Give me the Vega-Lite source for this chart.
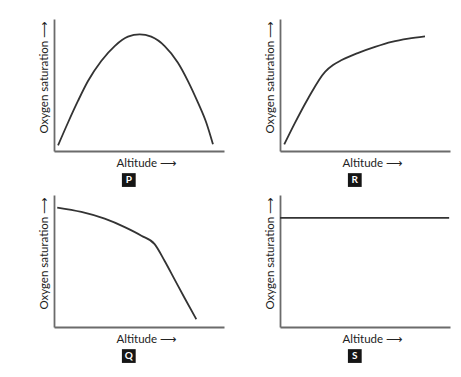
{
  "$schema": "https://vega.github.io/schema/vega-lite/v6.json",
  "background": "white",
  "padding": {"left": 38, "top": 19, "right": 5, "bottom": 3},
  "config": {
    "view": {"stroke": null},
    "font": "Lato, DejaVu Sans, sans-serif",
    "axis": {
      "domainColor": "#6b6b6b",
      "domainWidth": 1.8,
      "ticks": false,
      "labels": false,
      "grid": false,
      "titleFont": "Lato, DejaVu Sans, sans-serif",
      "titleFontSize": 11.5,
      "titleFontWeight": "normal",
      "titleColor": "#222222"
    }
  },
  "datasets": {
    "curves": [
      {"panel": "P", "x": 0.024, "y": 0.043},
      {"panel": "P", "x": 0.082, "y": 0.214},
      {"panel": "P", "x": 0.141, "y": 0.379},
      {"panel": "P", "x": 0.2, "y": 0.53},
      {"panel": "P", "x": 0.278, "y": 0.682},
      {"panel": "P", "x": 0.357, "y": 0.795},
      {"panel": "P", "x": 0.435, "y": 0.866},
      {"panel": "P", "x": 0.504, "y": 0.884},
      {"panel": "P", "x": 0.572, "y": 0.866},
      {"panel": "P", "x": 0.651, "y": 0.795},
      {"panel": "P", "x": 0.729, "y": 0.669},
      {"panel": "P", "x": 0.788, "y": 0.53},
      {"panel": "P", "x": 0.847, "y": 0.366},
      {"panel": "P", "x": 0.896, "y": 0.214},
      {"panel": "P", "x": 0.935, "y": 0.051},
      {"panel": "R", "x": 0.025, "y": 0.05},
      {"panel": "R", "x": 0.088, "y": 0.213},
      {"panel": "R", "x": 0.166, "y": 0.4},
      {"panel": "R", "x": 0.265, "y": 0.6},
      {"panel": "R", "x": 0.312, "y": 0.651},
      {"panel": "R", "x": 0.363, "y": 0.689},
      {"panel": "R", "x": 0.461, "y": 0.744},
      {"panel": "R", "x": 0.559, "y": 0.789},
      {"panel": "R", "x": 0.657, "y": 0.827},
      {"panel": "R", "x": 0.755, "y": 0.852},
      {"panel": "R", "x": 0.853, "y": 0.869},
      {"panel": "Q", "x": 0.019, "y": 0.905},
      {"panel": "Q", "x": 0.161, "y": 0.872},
      {"panel": "Q", "x": 0.298, "y": 0.821},
      {"panel": "Q", "x": 0.416, "y": 0.757},
      {"panel": "Q", "x": 0.514, "y": 0.692},
      {"panel": "Q", "x": 0.592, "y": 0.628},
      {"panel": "Q", "x": 0.651, "y": 0.5},
      {"panel": "Q", "x": 0.71, "y": 0.359},
      {"panel": "Q", "x": 0.769, "y": 0.218},
      {"panel": "Q", "x": 0.837, "y": 0.059},
      {"panel": "S", "x": 0.0, "y": 0.826},
      {"panel": "S", "x": 0.995, "y": 0.826}
    ],
    "labels": [
      {"panel": "P"},
      {"panel": "R"},
      {"panel": "Q"},
      {"panel": "S"}
    ]
  },
  "columns": 2,
  "spacing": {"column": 40, "row": 8},
  "concat": [
    {
      "width": 170, "height": 132,
      "layer": [
        {"data": {"name": "curves"}, "transform": [{"filter": "datum.panel === 'P'"}],
         "mark": {"type": "line", "interpolate": "monotone", "color": "#333333", "strokeWidth": 1.8},
         "encoding": {
           "x": {"field": "x", "type": "quantitative", "scale": {"domain": [0, 1]}, "axis": {"title": "Altitude ⟶", "titlePadding": 6, "titleX": 92, "titleAlign": "center"}},
           "y": {"field": "y", "type": "quantitative", "scale": {"domain": [0, 1]}, "axis": {"title": "Oxygen saturation ⟶", "titlePadding": 5, "titleY": 58, "titleAlign": "center"}}
         }},
        {"data": {"name": "labels"}, "transform": [{"filter": "datum.panel === 'P'"}],
         "mark": {"type": "square", "size": 190, "color": "#151515", "opacity": 1, "clip": false},
         "encoding": {"x": {"datum": 0.44, "type": "quantitative"}, "y": {"datum": -0.22, "type": "quantitative"}}},
        {"data": {"name": "labels"}, "transform": [{"filter": "datum.panel === 'P'"}],
         "mark": {"type": "text", "color": "white", "fontSize": 10, "fontWeight": "bold", "baseline": "middle", "align": "center", "clip": false},
         "encoding": {"x": {"datum": 0.44, "type": "quantitative"}, "y": {"datum": -0.22, "type": "quantitative"}, "text": {"field": "panel"}}}
      ]
    },
    {
      "width": 170, "height": 132,
      "layer": [
        {"data": {"name": "curves"}, "transform": [{"filter": "datum.panel === 'R'"}],
         "mark": {"type": "line", "interpolate": "monotone", "color": "#333333", "strokeWidth": 1.8},
         "encoding": {
           "x": {"field": "x", "type": "quantitative", "scale": {"domain": [0, 1]}, "axis": {"title": "Altitude ⟶", "titlePadding": 6, "titleX": 92, "titleAlign": "center"}},
           "y": {"field": "y", "type": "quantitative", "scale": {"domain": [0, 1]}, "axis": {"title": "Oxygen saturation ⟶", "titlePadding": 5, "titleY": 58, "titleAlign": "center"}}
         }},
        {"data": {"name": "labels"}, "transform": [{"filter": "datum.panel === 'R'"}],
         "mark": {"type": "square", "size": 190, "color": "#151515", "opacity": 1, "clip": false},
         "encoding": {"x": {"datum": 0.44, "type": "quantitative"}, "y": {"datum": -0.22, "type": "quantitative"}}},
        {"data": {"name": "labels"}, "transform": [{"filter": "datum.panel === 'R'"}],
         "mark": {"type": "text", "color": "white", "fontSize": 10, "fontWeight": "bold", "baseline": "middle", "align": "center", "clip": false},
         "encoding": {"x": {"datum": 0.44, "type": "quantitative"}, "y": {"datum": -0.22, "type": "quantitative"}, "text": {"field": "panel"}}}
      ]
    },
    {
      "width": 170, "height": 132,
      "layer": [
        {"data": {"name": "curves"}, "transform": [{"filter": "datum.panel === 'Q'"}],
         "mark": {"type": "line", "interpolate": "monotone", "color": "#333333", "strokeWidth": 1.8},
         "encoding": {
           "x": {"field": "x", "type": "quantitative", "scale": {"domain": [0, 1]}, "axis": {"title": "Altitude ⟶", "titlePadding": 6, "titleX": 92, "titleAlign": "center"}},
           "y": {"field": "y", "type": "quantitative", "scale": {"domain": [0, 1]}, "axis": {"title": "Oxygen saturation ⟶", "titlePadding": 5, "titleY": 58, "titleAlign": "center"}}
         }},
        {"data": {"name": "labels"}, "transform": [{"filter": "datum.panel === 'Q'"}],
         "mark": {"type": "square", "size": 190, "color": "#151515", "opacity": 1, "clip": false},
         "encoding": {"x": {"datum": 0.44, "type": "quantitative"}, "y": {"datum": -0.22, "type": "quantitative"}}},
        {"data": {"name": "labels"}, "transform": [{"filter": "datum.panel === 'Q'"}],
         "mark": {"type": "text", "color": "white", "fontSize": 10, "fontWeight": "bold", "baseline": "middle", "align": "center", "clip": false},
         "encoding": {"x": {"datum": 0.44, "type": "quantitative"}, "y": {"datum": -0.22, "type": "quantitative"}, "text": {"field": "panel"}}}
      ]
    },
    {
      "width": 170, "height": 132,
      "layer": [
        {"data": {"name": "curves"}, "transform": [{"filter": "datum.panel === 'S'"}],
         "mark": {"type": "line", "interpolate": "monotone", "color": "#333333", "strokeWidth": 1.8},
         "encoding": {
           "x": {"field": "x", "type": "quantitative", "scale": {"domain": [0, 1]}, "axis": {"title": "Altitude ⟶", "titlePadding": 6, "titleX": 92, "titleAlign": "center"}},
           "y": {"field": "y", "type": "quantitative", "scale": {"domain": [0, 1]}, "axis": {"title": "Oxygen saturation ⟶", "titlePadding": 5, "titleY": 58, "titleAlign": "center"}}
         }},
        {"data": {"name": "labels"}, "transform": [{"filter": "datum.panel === 'S'"}],
         "mark": {"type": "square", "size": 190, "color": "#151515", "opacity": 1, "clip": false},
         "encoding": {"x": {"datum": 0.44, "type": "quantitative"}, "y": {"datum": -0.22, "type": "quantitative"}}},
        {"data": {"name": "labels"}, "transform": [{"filter": "datum.panel === 'S'"}],
         "mark": {"type": "text", "color": "white", "fontSize": 10, "fontWeight": "bold", "baseline": "middle", "align": "center", "clip": false},
         "encoding": {"x": {"datum": 0.44, "type": "quantitative"}, "y": {"datum": -0.22, "type": "quantitative"}, "text": {"field": "panel"}}}
      ]
    }
  ]
}
